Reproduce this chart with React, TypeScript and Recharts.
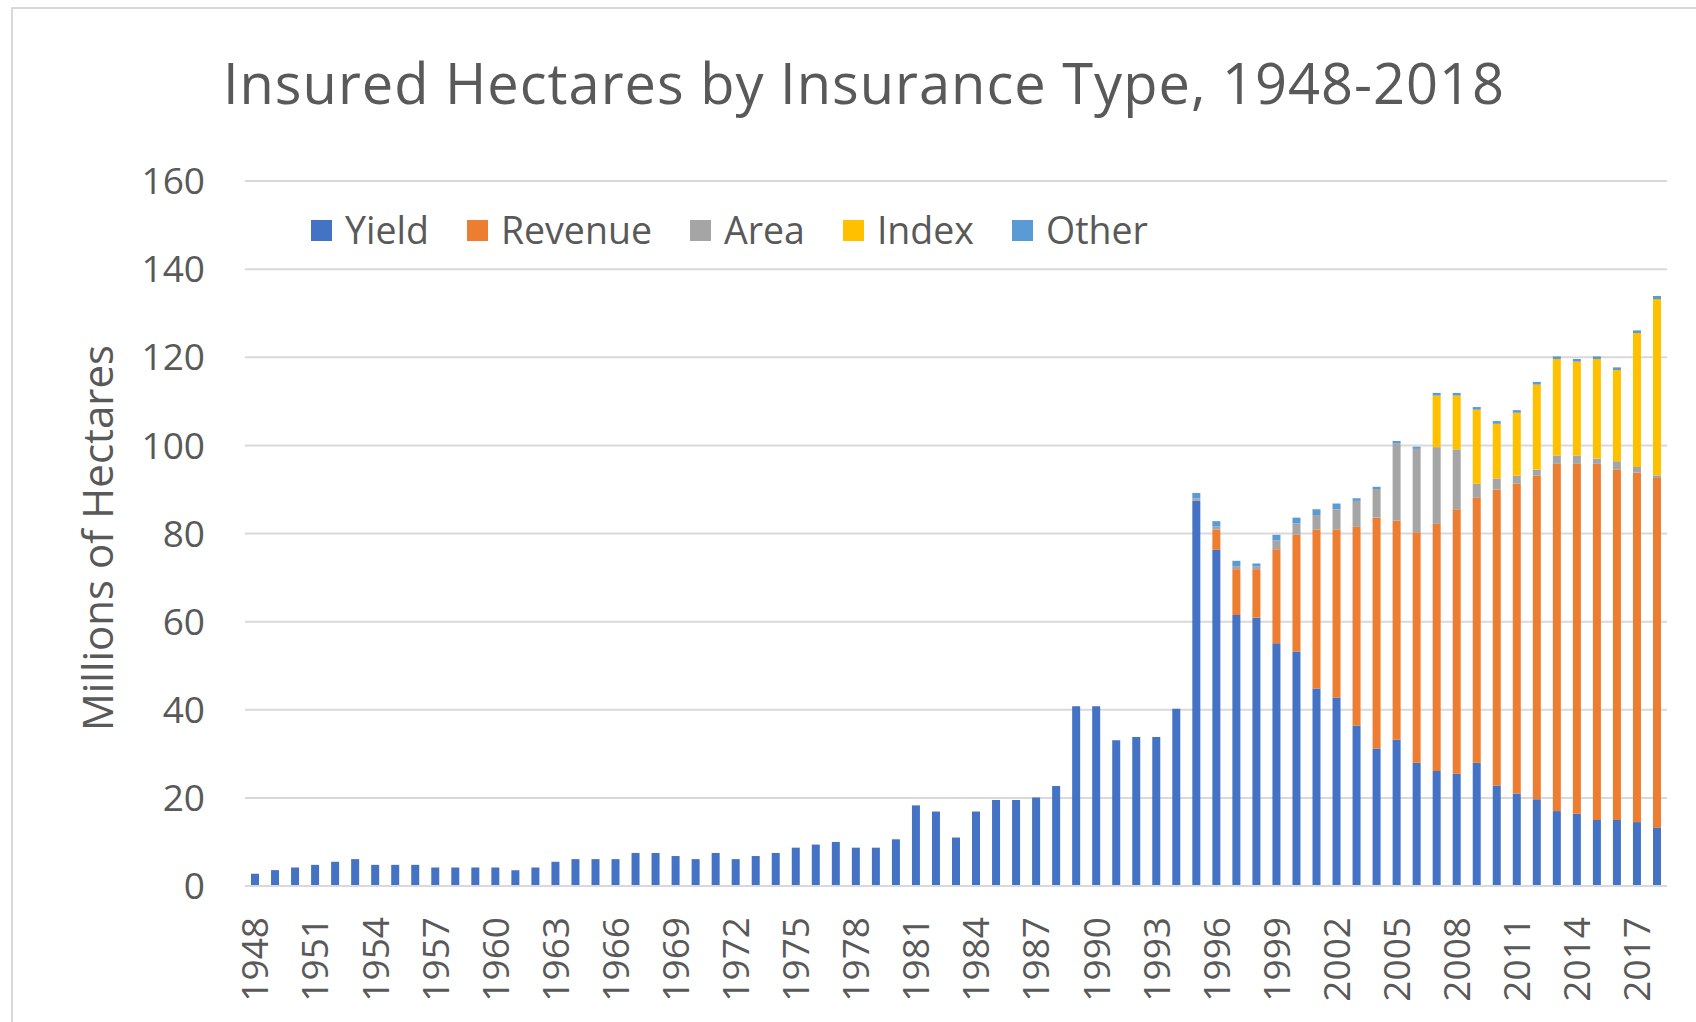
import React from 'react'
import { BarChart, Bar, XAxis, YAxis, CartesianGrid, Legend } from 'recharts'

const years = [
  1948, 1949, 1950, 1951, 1952, 1953, 1954, 1955, 1956, 1957, 1958, 1959, 1960, 1961, 1962, 1963, 1964, 1965,
  1966, 1967, 1968, 1969, 1970, 1971, 1972, 1973, 1974, 1975, 1976, 1977, 1978, 1979, 1980, 1981, 1982, 1983,
  1984, 1985, 1986, 1987, 1988, 1989, 1990, 1991, 1992, 1993, 1994, 1995, 1996, 1997, 1998, 1999, 2000, 2001,
  2002, 2003, 2004, 2005, 2006, 2007, 2008, 2009, 2010, 2011, 2012, 2013, 2014, 2015, 2016, 2017, 2018,
]

// millions of hectares
const yieldHa = [
  2.8, 3.6, 4.2, 4.8, 5.5, 6.1, 4.8, 4.8, 4.8, 4.2, 4.2, 4.2, 4.2, 3.6, 4.2, 5.5, 6.1, 6.1,
  6.1, 7.5, 7.5, 6.8, 6.1, 7.5, 6.1, 6.8, 7.5, 8.7, 9.4, 10.0, 8.7, 8.7, 10.6, 18.3, 16.9, 11.0,
  16.9, 19.5, 19.5, 20.1, 22.7, 40.8, 40.8, 33.1, 33.8, 33.8, 40.2, 87.4, 76.3, 61.5, 60.9, 55.1, 53.2, 44.8,
  42.8, 36.4, 31.2, 33.2, 28.0, 26.1, 25.5, 28.0, 22.8, 21.0, 19.7, 17.0, 16.4, 15.0, 15.0, 14.5, 13.3,
]
const revenueHa = [
  0, 0, 0, 0, 0, 0, 0, 0, 0, 0, 0, 0, 0, 0, 0, 0, 0, 0,
  0, 0, 0, 0, 0, 0, 0, 0, 0, 0, 0, 0, 0, 0, 0, 0, 0, 0,
  0, 0, 0, 0, 0, 0, 0, 0, 0, 0, 0, 0, 4.6, 10.4, 11.0, 21.3, 26.5, 36.1,
  38.1, 45.1, 52.4, 49.7, 52.3, 56.1, 60.0, 60.1, 67.2, 70.3, 73.4, 78.8, 79.4, 80.8, 79.5, 79.3, 79.3,
]
const areaHa = [
  0, 0, 0, 0, 0, 0, 0, 0, 0, 0, 0, 0, 0, 0, 0, 0, 0, 0,
  0, 0, 0, 0, 0, 0, 0, 0, 0, 0, 0, 0, 0, 0, 0, 0, 0, 0,
  0, 0, 0, 0, 0, 0, 0, 0, 0, 0, 0, 0.6, 0.7, 0.7, 0.6, 2.0, 2.6, 3.3,
  4.6, 5.9, 6.5, 17.5, 18.9, 17.4, 13.6, 3.2, 2.5, 1.8, 1.4, 1.9, 1.9, 1.2, 1.9, 1.3, 0.6,
]
const indexHa = [
  0, 0, 0, 0, 0, 0, 0, 0, 0, 0, 0, 0, 0, 0, 0, 0, 0, 0,
  0, 0, 0, 0, 0, 0, 0, 0, 0, 0, 0, 0, 0, 0, 0, 0, 0, 0,
  0, 0, 0, 0, 0, 0, 0, 0, 0, 0, 0, 0, 0, 0, 0, 0, 0, 0,
  0, 0, 0, 0, 0, 11.7, 12.2, 16.8, 12.4, 14.3, 19.3, 21.9, 21.3, 22.6, 20.7, 30.4, 40.0,
]
const otherHa = [
  0, 0, 0, 0, 0, 0, 0, 0, 0, 0, 0, 0, 0, 0, 0, 0, 0, 0,
  0, 0, 0, 0, 0, 0, 0, 0, 0, 0, 0, 0, 0, 0, 0, 0, 0, 0,
  0, 0, 0, 0, 0, 0, 0, 0, 0, 0, 0, 1.2, 1.2, 1.2, 0.7, 1.3, 1.3, 1.3,
  1.3, 0.6, 0.5, 0.6, 0.5, 0.6, 0.6, 0.6, 0.6, 0.6, 0.6, 0.6, 0.6, 0.6, 0.6, 0.6, 0.7,
]

const seriesNames = ['Yield', 'Revenue', 'Area', 'Index', 'Other']
const seriesColors = ['#4472C4', '#ED7D31', '#A5A5A5', '#FFC000', '#5B9BD5']
const yTicks = [0, 20, 40, 60, 80, 100, 120, 140, 160]

const data = years.map((y, i) => ({
  year: String(y),
  Yield: yieldHa[i],
  Revenue: revenueHa[i],
  Area: areaHa[i],
  Index: indexHa[i],
  Other: otherHa[i],
}))

const TEXT = '#595959'
const GRID = '#D9D9D9'
const FONT = '"Open Sans", "Noto Sans", sans-serif'

const YearTick = (props: any) => {
  const { x, y, payload } = props
  return (
    <g transform={`translate(${x},${y})`}>
      <text transform="rotate(-90)" x={-31} y={0} dy="0.36em" textAnchor="end" fill={TEXT} fontSize={37} fontFamily={FONT}>
        {payload.value}
      </text>
    </g>
  )
}

// keep the legend in series order (recharts sorts it by name otherwise)
const renderLegend = (props: any) => {
  const items = [...(props.payload || [])].sort(
    (a: any, b: any) => seriesNames.indexOf(a.value) - seriesNames.indexOf(b.value)
  )
  return (
    <div style={{ display: 'flex', alignItems: 'center', fontFamily: FONT, fontSize: 37.5, color: TEXT, lineHeight: '40px' }}>
      {items.map((entry: any) => (
        <div key={entry.value} style={{ display: 'flex', alignItems: 'center', marginRight: 38 }}>
          <span style={{ display: 'inline-block', width: 21, height: 21, background: entry.color, marginRight: 13 }} />
          <span>{entry.value}</span>
        </div>
      ))}
    </div>
  )
}

export default function App() {
  return (
    <div style={{ position: 'absolute', left: 0, top: 0, width: 1696, height: 1022, background: '#fff', overflow: 'hidden', fontFamily: FONT }}>
      {/* chart area frame */}
      <div style={{ position: 'absolute', left: 11, top: 7, width: 1720, height: 1040, border: `2px solid ${GRID}`, boxSizing: 'border-box' }} />

      <div style={{ position: 'absolute', left: 0, top: 0 }}>
        <BarChart
          width={1696}
          height={1022}
          data={data}
          margin={{ top: 181, right: 29, bottom: 0, left: 0 }}
          barCategoryGap="30%"
        >
          <CartesianGrid vertical={false} stroke={GRID} strokeWidth={2} />
          <XAxis
            dataKey="year"
            interval={2}
            height={136}
            tick={<YearTick />}
            tickLine={false}
            tickSize={0}
            tickMargin={0}
            axisLine={{ stroke: GRID, strokeWidth: 2 }}
          />
          <YAxis
            domain={[0, 160]}
            ticks={yTicks}
            width={245}
            axisLine={false}
            tickLine={false}
            tickSize={0}
            tickMargin={40}
            tick={{ fill: TEXT, fontSize: 37, fontFamily: FONT }}
          />
          <Legend
            verticalAlign="middle"
            align="center"
            layout="horizontal"
            content={renderLegend}
            wrapperStyle={{ top: 210, left: 311, width: 'auto' }}
          />
          {seriesNames.map((name, i) => (
            <Bar key={name} dataKey={name} stackId="a" fill={seriesColors[i]} isAnimationActive={false} />
          ))}
        </BarChart>
      </div>

      <div style={{ position: 'absolute', left: 0, width: 1728, top: 54, textAlign: 'center', fontSize: 56, lineHeight: '56px', letterSpacing: 1, color: TEXT, whiteSpace: 'nowrap' }}>
        Insured Hectares by Insurance Type, 1948-2018
      </div>

      <div
        style={{
          position: 'absolute',
          left: 97,
          top: 538,
          transform: 'translate(-50%, -50%) rotate(-90deg)',
          fontSize: 42,
          lineHeight: '44px',
          color: TEXT,
          whiteSpace: 'nowrap',
        }}
      >
        Millions of Hectares
      </div>
    </div>
  )
}
